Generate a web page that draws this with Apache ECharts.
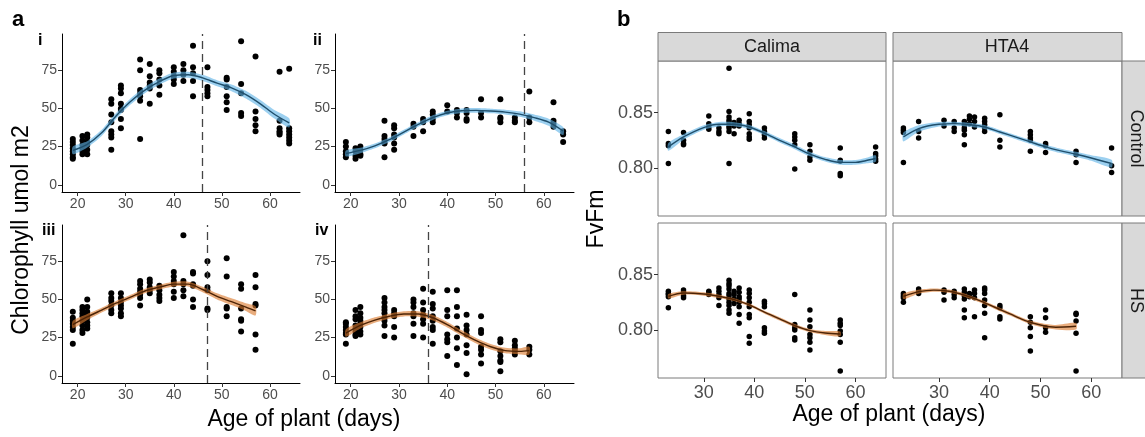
<!DOCTYPE html>
<html><head><meta charset="utf-8">
<script src="https://cdn.jsdelivr.net/npm/echarts@6/dist/echarts.min.js"></script>
<style>html,body{margin:0;padding:0;background:#fff}#c{width:1145px;height:437px}</style>
</head><body><div id="c"></div>
<script>
// ---------- Panel a: chlorophyll ----------
const xTicksA = [20, 30, 40, 50, 60];
const yTicksA = [0, 25, 50, 75];
const ageI = [19,21,22,27,29,33,35,37,40,42,44,47,51,54,57,62,64];
const chlI = [[30,28,26,24,22,20,18,17],[32,29,26,24,22,20],[33,31,28,26,23,20],[56,53,46,41,35,33,31,23],[65,63,60,53,50,49,43,37],[82,75,62,60,58,55,30],[79,71,67,65,63,53],[75,73,69,65,59],[77,74,71,69,66],[79,75,72,68],[91,77,73,68,58],[77,64,62,60,58],[70,69,64,58,54,49],[94,66,60,47,45],[84,48,43,39,35],[74,42,37,35,34,33],[76,37,35,33,31,29,27]];
const ageII = [19,21,22,27,29,33,35,37,40,42,44,47,51,54,57,62,64];
const chlII = [[28,25,22,20,18],[24,22,19,17],[25,23,20,19],[42,32,30,28,27,18],[39,37,33,31,27,23],[40,38,32],[43,41,35],[48,46,43,41],[52,48],[49,47,44],[49,47,43,42],[56,47,44],[56,44,43,41],[44,42,41],[61,44,41],[54,42,40,38],[35,33,28]];
const ageIII = [19,21,22,27,29,33,35,37,40,42,44,47,51,54,57];
const chlIII = [[42,38,36,34,32,30,21],[45,43,41,39,36,33,30,28],[50,45,42,40,38,35,33,31],[54,51,49,46,43,41],[54,51,48,46,44,41,39],[62,60,57,55,53,51,46],[63,61,58,56,54],[59,56,53,51,49],[68,65,62,60,55,51],[92,62,60,56,52],[68,67,60,59,50,45],[75,66,58,56,44,43],[77,65,45,44,39],[60,57,44,37,36,29],[66,58,47,46,27,17]];
const ageIV = [19,21,22,27,29,33,35,37,40,42,44,47,51,54,57];
const chlIV = [[35,34,32,30,28,27,21],[43,39,37,33,31,29,27,26],[45,41,38,36,34,32,29,27],[51,48,45,43,41,38,36,33,26],[43,41,39,32,25],[50,48,45,41,39,34,26],[57,48,43,40,37,34,25],[55,47,44,39,36,32,30,21],[56,43,39,27,24,22,13],[56,45,39,31,25,18,7],[40,33,30,27,20,15,1],[39,30,28,19,17,14,8],[24,22,16,13,10,9,3],[23,20,18,16,14],[19,17,14]];
// smooth fits (value) and half-width of confidence band
const fitAgeI = [19,22,25,28,31,34,37,40,43,46,49,52,55,58,61,64];
const fitI  = [22.5,26.5,34,45,54.5,62,67.5,71.5,72,70,66.5,63.5,59,53,46,40.5];
const seI   = [2.5,2,2,2,2,2,2,2,2,2,2,2.2,2.5,2.5,2.8,3];
const fitAgeII = [19,22,25,28,31,34,37,40,43,46,49,52,55,58,61,64];
const fitII = [20.5,22.5,25.5,29.5,34.5,39.5,44,47,48.5,48.7,48.3,47.6,46.3,44,41,35.2];
const seII  = [2,1.8,1.6,1.5,1.5,1.5,1.5,1.5,1.5,1.5,1.5,1.6,1.8,2,2.3,2.6];
const fitAgeIII = [19,22,25,28,31,34,37,40,43,46,49,52,55,57];
const fitIII = [33.5,38.5,43,47.5,51.5,55.5,58,60,60,56.5,52,48.5,45,42.5];
const seIII  = [2.5,2,1.6,1.5,1.5,1.5,1.5,1.5,1.6,1.8,2,2.2,2.5,3];
const fitAgeIV = [19,22,25,28,31,34,37,40,43,46,49,52,55,57];
const fitIV = [28,33,36.5,39,40.5,40.5,38,33.5,28,23,19,16.5,16,16.5];
const seIV  = [2.5,2,1.8,1.7,1.7,1.8,1.8,1.8,1.8,1.8,1.8,1.8,2,2.5];
const vlineA = [46, 56, 47, 36];
const panelLabelsA = ['i','ii','iii','iv'];

// ---------- Panel b: FvFm ----------
const xTicksB = [30, 40, 50, 60];
const yTicksB = [0.80, 0.85];
const genotypes = ['Calima', 'HTA4'];
const treatments = ['Control', 'HS'];
const ageCC = [23,26,31,33,35,36,37,39,42,48,51,57,64];
const fvCC = [[0.833,0.822,0.820,0.804],[0.832,0.825,0.822,0.821],[0.847,0.840,0.837,0.835],[0.836,0.833,0.831],[0.890,0.851,0.846,0.843,0.841,0.838,0.836,0.833,0.804],[0.841,0.838,0.831],[0.843,0.840,0.838],[0.849,0.842,0.839,0.836,0.831,0.828,0.826],[0.836,0.833,0.830,0.827],[0.831,0.828,0.825,0.821,0.799],[0.821,0.815,0.810,0.807],[0.818,0.807,0.806,0.795,0.793],[0.819,0.813,0.811,0.808,0.806]];
const ageHC = [23,26,31,33,35,36,37,39,42,48,51,57,64];
const fvHC = [[0.836,0.834,0.832,0.805],[0.842,0.833,0.827],[0.843,0.838],[0.842,0.836,0.833],[0.842,0.839,0.836,0.834,0.830,0.821],[0.847,0.844,0.840],[0.846,0.842,0.837],[0.845,0.842,0.839,0.836,0.833],[0.848,0.825,0.819],[0.833,0.830,0.827,0.825,0.815],[0.822,0.820,0.814],[0.815,0.812,0.805],[0.818,0.802,0.796]];
const ageCH = [23,26,31,33,35,36,37,39,42,48,51,57];
const fvCH = [[0.835,0.833,0.832,0.830,0.820],[0.836,0.834,0.831,0.829],[0.835,0.834,0.832],[0.838,0.835,0.832,0.829,0.822],[0.845,0.842,0.840,0.837,0.833,0.831,0.828,0.825,0.822,0.818,0.815],[0.835,0.832,0.828,0.824],[0.838,0.834,0.830,0.828,0.825,0.821,0.814,0.806],[0.836,0.833,0.829,0.825,0.821,0.814,0.811,0.794,0.788],[0.826,0.824,0.821,0.802,0.799,0.797],[0.832,0.805,0.802,0.800,0.793,0.791],[0.818,0.809,0.803,0.796,0.793,0.789,0.782],[0.809,0.806,0.804,0.799,0.796,0.789,0.763]];
const ageHH = [23,26,31,33,35,36,37,39,42,48,51,57];
const fvHH = [[0.833,0.831,0.829,0.825],[0.837,0.835,0.833],[0.836,0.834,0.827],[0.835,0.832,0.829],[0.837,0.834,0.831,0.828,0.818,0.811],[0.833,0.830],[0.836,0.833,0.829,0.812],[0.838,0.836,0.833,0.827,0.822,0.815,0.793],[0.822,0.820,0.812,0.810],[0.812,0.807,0.802,0.794,0.781],[0.818,0.811,0.802,0.798],[0.815,0.814,0.808,0.797,0.763]];
const fitAgeCC = [23,26,30,33,36,39,42,45,48,51,54,57,60,62,64];
const fitCC = [0.819,0.828,0.8365,0.8395,0.8395,0.837,0.8315,0.825,0.819,0.8125,0.8078,0.805,0.805,0.8065,0.8085];
const seCC  = [0.0035,0.0025,0.002,0.002,0.0018,0.0018,0.0018,0.002,0.002,0.002,0.002,0.0022,0.0022,0.0025,0.003];
const fitAgeHC = [23,26,30,33,36,39,42,45,48,51,54,57,60,64];
const fitHC = [0.828,0.8356,0.8395,0.840,0.839,0.837,0.8325,0.828,0.8235,0.819,0.8154,0.8124,0.809,0.804];
const seHC  = [0.004,0.003,0.002,0.0018,0.0018,0.0018,0.0018,0.0018,0.0018,0.002,0.002,0.0022,0.0025,0.0035];
const fitAgeCH = [23,26,30,33,36,39,42,45,48,51,54,57];
const fitCH = [0.8304,0.8334,0.8325,0.8304,0.8274,0.8226,0.816,0.810,0.8039,0.7994,0.7973,0.7964];
const seCH  = [0.002,0.0015,0.0015,0.0015,0.0013,0.0013,0.0013,0.0015,0.0015,0.0015,0.0018,0.0022];
const fitAgeHH = [23,26,29,32,35,38,41,44,47,50,53,57];
const fitHH = [0.8304,0.8346,0.836,0.835,0.8315,0.8265,0.8205,0.8145,0.8085,0.8045,0.8025,0.8033];
const seHH  = [0.0025,0.0018,0.0015,0.0015,0.0015,0.0015,0.0015,0.0015,0.0015,0.0018,0.002,0.003];

// ---------- build ----------
const FONT = 'Liberation Sans, Arial, sans-serif';
const BLUE = {band:'#5fb3e6', line:'#1f4e6b'};
const ORANGE = {band:'#dc7a2e', line:'#4d2406'};
function pairs(ages, vals){const out=[];ages.forEach((a,i)=>vals[i].forEach(v=>out.push([a,v])));return out;}

const grids = [
  {left:62, top:34, width:238, height:158},
  {left:335, top:34, width:239, height:158},
  {left:62, top:225, width:238, height:158},
  {left:335, top:225, width:239, height:158},
  {left:658, top:61, width:228, height:155, show:true, borderColor:'#7a7a7a', borderWidth:1},
  {left:893, top:61, width:229, height:155, show:true, borderColor:'#7a7a7a', borderWidth:1},
  {left:658, top:223, width:228, height:155, show:true, borderColor:'#7a7a7a', borderWidth:1},
  {left:893, top:223, width:229, height:155, show:true, borderColor:'#7a7a7a', borderWidth:1}
];
const xAxes = [], yAxes = [];
for (let k=0;k<4;k++){
  xAxes.push({type:'value', gridIndex:k, min:16.75, max:66.25, splitLine:{show:false},
    axisLine:{show:true, onZero:false, lineStyle:{color:'#000', width:1}},
    axisTick:{show:true, length:4, customValues:xTicksA, lineStyle:{color:'#333'}},
    axisLabel:{customValues:xTicksA, color:'#4d4d4d', fontSize:14, margin:5, fontFamily:FONT}});
  yAxes.push({type:'value', gridIndex:k, min:-4.7, max:98.7, splitLine:{show:false},
    axisLine:{show:true, onZero:false, lineStyle:{color:'#000', width:1}},
    axisTick:{show:true, length:4, customValues:yTicksA, lineStyle:{color:'#333'}},
    axisLabel:{customValues:yTicksA, color:'#4d4d4d', fontSize:14, margin:5, fontFamily:FONT}});
}
for (let k=4;k<8;k++){
  const bottomRow = k>=6, leftCol = (k===4||k===6);
  xAxes.push({type:'value', gridIndex:k, min:20.95, max:66.05, splitLine:{show:false},
    axisLine:{show:false},
    axisTick:{show:bottomRow, length:4, customValues:xTicksB, lineStyle:{color:'#333'}},
    axisLabel:{show:bottomRow, customValues:xTicksB, color:'#4d4d4d', fontSize:18, margin:6, fontFamily:FONT}});
  yAxes.push({type:'value', gridIndex:k, min:0.7566, max:0.8966, splitLine:{show:false},
    axisLine:{show:false},
    axisTick:{show:leftCol, length:4, customValues:yTicksB, lineStyle:{color:'#333'}},
    axisLabel:{show:leftCol, customValues:yTicksB, formatter:v=>v.toFixed(2), color:'#4d4d4d', fontSize:18, margin:5, fontFamily:FONT}});
}

function scatter(k, ages, vals, size, vline){
  const s = {type:'scatter', xAxisIndex:k, yAxisIndex:k, data:pairs(ages, vals), symbolSize:size,
    itemStyle:{color:'#000', opacity:1}, silent:true, z:2};
  if (vline !== undefined) s.markLine = {silent:true, symbol:['none','none'], label:{show:false},
    lineStyle:{type:[8,5], color:'#444', width:1.3, opacity:1}, data:[{xAxis:vline}]};
  return s;
}
function band(k, ages, fit, se, col){
  return {type:'custom', xAxisIndex:k, yAxisIndex:k, silent:true, z:3, data:[[ages[0], fit[0]]],
    renderItem:(params, api)=>{
      const up = ages.map((a,i)=>api.coord([a, fit[i]+se[i]]));
      const lo = ages.map((a,i)=>api.coord([a, fit[i]-se[i]])).reverse();
      return {type:'polygon', shape:{points:up.concat(lo), smooth:0.25}, style:{fill:col.band, opacity:0.62}};
    }};
}
function fitLine(k, ages, fit, col){
  return {type:'line', xAxisIndex:k, yAxisIndex:k, data:ages.map((a,i)=>[a,fit[i]]), smooth:0.3,
    showSymbol:false, symbol:'none', silent:true, z:4, lineStyle:{color:col.line, width:1.4}};
}
const panels = [
  [0, ageI, chlI, fitAgeI, fitI, seI, BLUE, 6, vlineA[0]],
  [1, ageII, chlII, fitAgeII, fitII, seII, BLUE, 6, vlineA[1]],
  [2, ageIII, chlIII, fitAgeIII, fitIII, seIII, ORANGE, 6, vlineA[2]],
  [3, ageIV, chlIV, fitAgeIV, fitIV, seIV, ORANGE, 6, vlineA[3]],
  [4, ageCC, fvCC, fitAgeCC, fitCC, seCC, BLUE, 5.5],
  [5, ageHC, fvHC, fitAgeHC, fitHC, seHC, BLUE, 5.5],
  [6, ageCH, fvCH, fitAgeCH, fitCH, seCH, ORANGE, 5.5],
  [7, ageHH, fvHH, fitAgeHH, fitHH, seHH, ORANGE, 5.5]
];
const series = [];
panels.forEach(p=>{
  series.push(scatter(p[0], p[1], p[2], p[7], p[8]));
  series.push(band(p[0], p[3], p[4], p[5], p[6]));
  series.push(fitLine(p[0], p[3], p[4], p[6]));
});

function txt(x, y, text, font, opts){
  return Object.assign({type:'text', x:x, y:y, silent:true, z:10,
    style:Object.assign({text:text, font:font, fill:'#000', align:'center', verticalAlign:'middle',
      textAlign:'center', textVerticalAlign:'middle'}, (opts&&opts.style)||{})},
    opts&&opts.rotation!==undefined?{rotation:opts.rotation}:{});
}
const STRIP = {fill:'#d9d9d9', stroke:'#7a7a7a', lineWidth:1};
const TOPLEFT = {align:'left', textAlign:'left', verticalAlign:'top', textVerticalAlign:'top'};
const graphic = [
  txt(12, 20, 'a', 'bold 22px '+FONT, {style:{align:'left', textAlign:'left'}}),
  txt(617, 20, 'b', 'bold 22px '+FONT, {style:{align:'left', textAlign:'left'}}),
  txt(38, 33, panelLabelsA[0], 'bold 16px '+FONT, {style:TOPLEFT}),
  txt(313, 33, panelLabelsA[1], 'bold 16px '+FONT, {style:TOPLEFT}),
  txt(42, 223, panelLabelsA[2], 'bold 16px '+FONT, {style:TOPLEFT}),
  txt(315, 223, panelLabelsA[3], 'bold 16px '+FONT, {style:TOPLEFT}),
  txt(22, 230, 'Chlorophyll umol m2', '23px '+FONT, {rotation:Math.PI/2}),
  txt(304, 420, 'Age of plant (days)', '23px '+FONT),
  txt(597, 219, 'FvFm', '23px '+FONT, {rotation:Math.PI/2}),
  txt(889, 415, 'Age of plant (days)', '23px '+FONT),
  {type:'rect', shape:{x:658, y:32.5, width:228, height:28.5}, style:STRIP, silent:true, z:5},
  {type:'rect', shape:{x:893, y:32.5, width:229, height:28.5}, style:STRIP, silent:true, z:5},
  {type:'rect', shape:{x:1122, y:61, width:30, height:155}, style:STRIP, silent:true, z:5},
  {type:'rect', shape:{x:1122, y:223, width:30, height:155}, style:STRIP, silent:true, z:5},
  txt(772, 47, genotypes[0], '18px '+FONT, {style:{fill:'#1a1a1a'}}),
  txt(1007, 47, genotypes[1], '18px '+FONT, {style:{fill:'#1a1a1a'}}),
  txt(1136, 138.5, treatments[0], '18px '+FONT, {rotation:-Math.PI/2, style:{fill:'#1a1a1a'}}),
  txt(1136, 300.5, treatments[1], '18px '+FONT, {rotation:-Math.PI/2, style:{fill:'#1a1a1a'}})
];

const chart = echarts.init(document.getElementById('c'), null, {renderer:'canvas'});
chart.setOption({animation:false, backgroundColor:'#fff', grid:grids, xAxis:xAxes, yAxis:yAxes, series:series, graphic:graphic});
</script>
</body></html>
